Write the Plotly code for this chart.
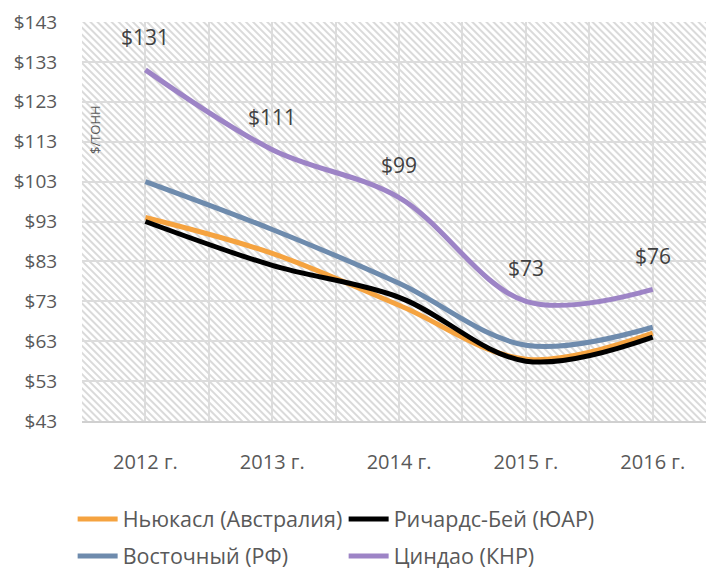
import base64
import plotly.graph_objects as go

years = ["2012 г.", "2013 г.", "2014 г.", "2015 г.", "2016 г."]
newcastle = [94, 85, 72, 58.5, 65]
richards_bay = [93, 82, 74, 58, 64]
vostochny = [103, 91, 77.5, 62, 66.5]
qingdao = [131, 111, 99, 73, 76]
qingdao_labels = ["$131", "$111", "$99", "$73", "$76"]
y_ticks = list(range(43, 144, 10))

x = list(range(len(years)))

W, H = 706, 569
L, R, T, B = 82, 0, 22, 148
PW, PH = W - L - R, H - T - B

FONT = "Open Sans"
GREY = "#595959"

series = [
    ("Ньюкасл (Австралия)", newcastle, "#F5A340", "legend"),
    ("Ричардс-Бей (ЮАР)", richards_bay, "#000000", "legend"),
    ("Восточный (РФ)", vostochny, "#6E8BAD", "legend2"),
    ("Циндао (КНР)", qingdao, "#9D84C6", "legend2"),
]

fig = go.Figure()
for name, vals, col, lg in series:
    fig.add_trace(go.Scatter(
        x=x, y=vals, name=name, mode="lines", legend=lg,
        line=dict(color=col, width=5, shape="spline", smoothing=1.0),
    ))

for xi, yi, t in zip(x, qingdao, qingdao_labels):
    fig.add_annotation(x=xi, y=yi, text=t, showarrow=False, yshift=33,
                       font=dict(family=FONT, size=21, color="#404040"))

fig.add_annotation(xref="paper", yref="paper", x=(95 - L) / PW,
                   y=(H - B - 130) / PH, xanchor="center", yanchor="middle",
                   text="$/ТОНН", textangle=-90,
                   showarrow=False, font=dict(family=FONT, size=13, color=GREY))

# hatch pattern background
svg = (f'<svg xmlns="http://www.w3.org/2000/svg" width="{PW}" height="{PH}">'
       '<defs><pattern id="p" width="5" height="5" patternUnits="userSpaceOnUse" '
       'patternTransform="rotate(-45)">'
       '<line x1="1" y1="0" x2="1" y2="5" stroke="#dadada" stroke-width="2"/>'
       '</pattern></defs>'
       f'<rect width="{PW}" height="{PH}" fill="#ffffff"/>'
       f'<rect width="{PW}" height="{PH}" fill="url(#p)"/></svg>')
src = "data:image/svg+xml;base64," + base64.b64encode(svg.encode()).decode()
fig.add_layout_image(source=src, xref="x domain", yref="y domain", x=0, y=1,
                     sizex=1, sizey=1, xanchor="left", yanchor="top",
                     sizing="stretch", layer="below")

legend_common = dict(orientation="h", xanchor="left", yanchor="middle",
                     entrywidth=216, itemwidth=40, bgcolor="rgba(0,0,0,0)",
                     font=dict(family=FONT, size=21.5, color=GREY))
fig.update_layout(
    width=W, height=H,
    margin=dict(l=L, r=R, t=T, b=B, autoexpand=False),
    paper_bgcolor="white", plot_bgcolor="rgba(0,0,0,0)",
    font=dict(family=FONT, color=GREY),
    legend=dict(x=-0.015, y=-(519 - (H - B)) / PH, **legend_common),
    legend2=dict(x=-0.015, y=-(556 - (H - B)) / PH, **legend_common),
    showlegend=True,
)
fig.update_xaxes(
    range=[-0.5, 4.42], tickmode="array", tickvals=x, ticktext=years,
    showgrid=True, gridcolor="#dcdcdc", gridwidth=1.5,
    minor=dict(tickmode="array", tickvals=[-0.5, 0.5, 1.5, 2.5, 3.5, 4.5],
               showgrid=True, gridcolor="#dcdcdc", gridwidth=1.5),
    ticks="outside", ticklen=22, tickcolor="rgba(0,0,0,0)",
    tickfont=dict(family=FONT, size=20, color=GREY),
    showline=True, linecolor="#d0d0d0", linewidth=1.5, zeroline=False,
    fixedrange=True,
)
fig.update_yaxes(
    range=[43, 143], tickmode="array", tickvals=y_ticks,
    ticktext=[f"${v}" for v in y_ticks],
    showgrid=True, gridcolor="#dcdcdc", gridwidth=1.5,
    ticks="outside", ticklen=20, tickcolor="rgba(0,0,0,0)",
    tickfont=dict(family=FONT, size=19, color=GREY),
    zeroline=False, fixedrange=True,
)

fig.write_html("out.html", config={"displayModeBar": False},
               post_script="document.body.style.margin='0';document.body.style.overflow='hidden';")
